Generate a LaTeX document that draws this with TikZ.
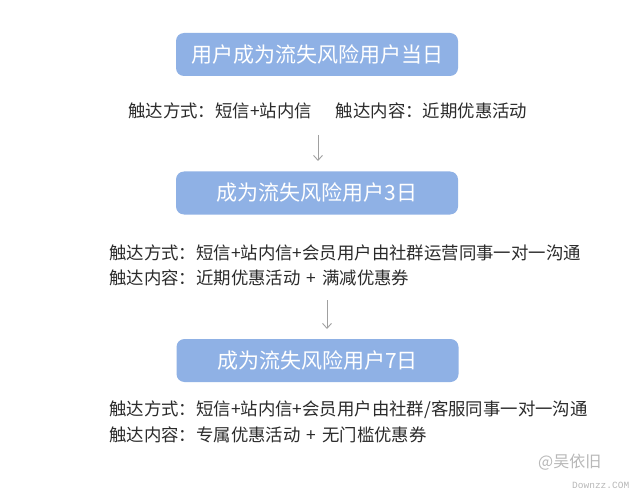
\documentclass[tikz,border=0pt]{standalone}
\usepackage{fontspec}
\setmainfont{Noto Sans CJK SC}
\newfontfamily\wmmono{Liberation Mono}
\usetikzlibrary{arrows.meta}
\definecolor{boxblue}{HTML}{8FB1E5}
\definecolor{txtgray}{HTML}{2B2B2B}
\definecolor{arrgray}{HTML}{A0A0A0}
\definecolor{wmgray}{HTML}{B8B8B8}
\tikzset{
  stagebox/.style={fill=boxblue, rounded corners=8pt, minimum width=282pt, minimum height=43pt,
    text=white, font=\fontsize{21}{21}\selectfont, inner sep=0pt},
  infotext/.style={text=txtgray, font=\fontsize{17.4}{25}\selectfont, inner sep=0pt, align=left},
  flowarrow/.style={draw=arrgray, line width=0.9pt, -{Straight Barb[length=5pt,width=9pt]}}
}
\newcommand{\spplus}{\hspace{6pt}+\hspace{6pt}}
\begin{document}
\begin{tikzpicture}[x=1pt,y=-1pt]
\useasboundingbox (0,0) rectangle (632,500);
\fill[white] (0,0) rectangle (632,500);
\node[stagebox] (b1) at (317,54.5) {用户成为流失风险用户当日};
\node[infotext, anchor=west] (t1) at (128,111) {触达方式：短信+站内信\hspace{24pt}触达内容：近期优惠活动};
\coordinate (a1s) at (318,135);
\coordinate (a1e) at (318,161);
\draw[flowarrow] (a1s) -- (a1e);
\node[stagebox] (b2) at (317,193) {成为流失风险用户3日};
\node[infotext, anchor=west] (t2) at (109,253) {触达方式：短信+站内信+会员用户由社群运营同事一对一沟通};
\node[infotext, anchor=west] (t3) at (109,278) {触达内容：近期优惠活动\spplus 满减优惠券};
\coordinate (a2s) at (327,300);
\coordinate (a2e) at (327,329);
\draw[flowarrow] (a2s) -- (a2e);
\node[stagebox] (b3) at (317.5,360.5) {成为流失风险用户7日};
\node[infotext, anchor=west] (t4) at (109,410) {触达方式：短信+站内信+会员用户由社群/客服同事一对一沟通};
\node[infotext, anchor=west] (t5) at (109,435) {触达内容：专属优惠活动\spplus 无门槛优惠券};
\node[text=wmgray, font=\fontsize{16}{16}\selectfont, anchor=west, inner sep=0pt] (wm1) at (538,462) {@吴依旧};
\node[text=wmgray, font=\wmmono\fontsize{9.5}{9.5}\selectfont, anchor=west, inner sep=0pt] (wm2) at (572,485) {Downzz.COM};
\end{tikzpicture}
\end{document}
